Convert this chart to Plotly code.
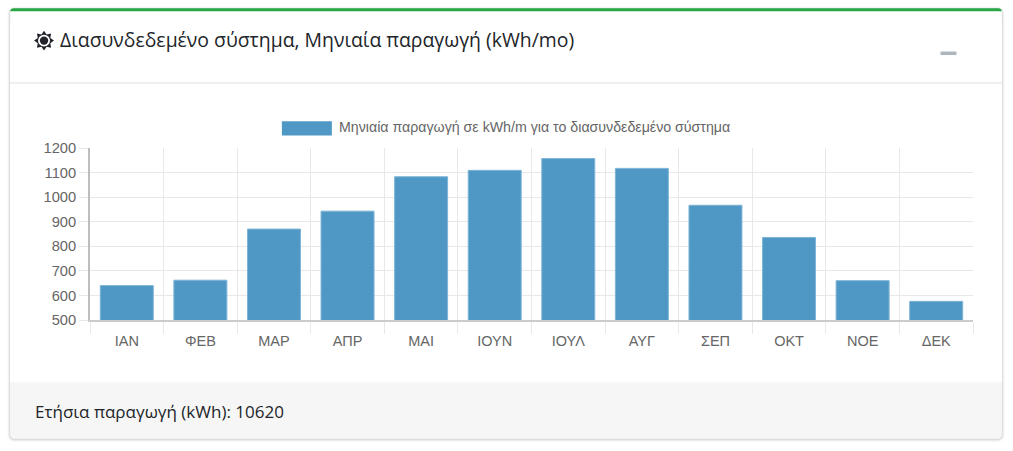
import math
import plotly.graph_objects as go

months = ["ΙΑΝ", "ΦΕΒ", "ΜΑΡ", "ΑΠΡ", "ΜΑΙ", "ΙΟΥΝ", "ΙΟΥΛ", "ΑΥΓ", "ΣΕΠ", "ΟΚΤ", "ΝΟΕ", "ΔΕΚ"]
production = [640, 662, 870, 943, 1083, 1109, 1157, 1117, 967, 836, 660, 576]
series_name = "Μηνιαία παραγωγή σε kWh/m για το διασυνδεδεμένο σύστημα"
title_text = "Διασυνδεδεμένο σύστημα, Μηνιαία παραγωγή (kWh/mo)"
footer_text = "Ετήσια παραγωγή (kWh): 10620"

W, H = 1013, 451
L, R, T, B = 90, 973.5, 147.5, 320.5

def X(p):
    return (p - L) / (R - L)

def Y(p):
    return (B - p) / (B - T)

def rrect(x0, y0, x1, y1, r):
    return (f"M{X(x0+r)},{Y(y0)} L{X(x1-r)},{Y(y0)} Q{X(x1)},{Y(y0)} {X(x1)},{Y(y0+r)} "
            f"L{X(x1)},{Y(y1-r)} Q{X(x1)},{Y(y1)} {X(x1-r)},{Y(y1)} L{X(x0+r)},{Y(y1)} "
            f"Q{X(x0)},{Y(y1)} {X(x0)},{Y(y1-r)} L{X(x0)},{Y(y0+r)} Q{X(x0)},{Y(y0)} {X(x0+r)},{Y(y0)} Z")

def pshape(path, fill, line=None):
    return dict(type="path", xref="paper", yref="paper", path=path, fillcolor=fill,
                line=dict(width=0 if line is None else 1, color=line or "rgba(0,0,0,0)"), layer="below")

def rect(x0, y0, x1, y1, fill):
    return dict(type="rect", xref="paper", yref="paper", x0=X(x0), x1=X(x1), y0=Y(y1), y1=Y(y0),
                fillcolor=fill, line=dict(width=0), layer="below")

def circle(cx, cy, r, fill):
    return dict(type="circle", xref="paper", yref="paper", x0=X(cx-r), x1=X(cx+r), y0=Y(cy+r), y1=Y(cy-r),
                fillcolor=fill, line=dict(width=0), layer="below")

CL, CR, CT, CB = 10, 1002.5, 7, 440
shapes = []
# card shadow
for grow, alpha in [(3, 0.02), (2, 0.04), (1, 0.08)]:
    shapes.append(pshape(rrect(CL-grow, CT-grow+1, CR+grow, CB+grow+0.5, 5+grow), f"rgba(0,0,0,{alpha})"))
# green top edge, footer, white body
shapes.append(pshape(rrect(CL, CT, CR, CT+20, 4), "#28a745"))
shapes.append(pshape(rrect(CL, 370, CR, CB, 5), "#f6f6f6"))
shapes.append(rect(CL, CT+3, CR, 383, "#ffffff"))
shapes.append(rect(CL, 81.5, CR, 82.7, "#dfdfdf"))
# collapse button
shapes.append(rect(941, 50.5, 957, 54, "#adb5bd"))
# sun icon
cx, cy = 44, 39.5
pts = []
for i in range(16):
    r = 10 if i % 2 == 0 else 6.8
    a = math.pi * i / 8 - math.pi / 2
    pts.append((cx + r * math.cos(a), cy + r * math.sin(a)))
shapes.append(pshape("M" + " L".join(f"{X(a)},{Y(b)}" for a, b in pts) + " Z", "#212529"))
shapes.append(circle(cx, cy, 6, "#ffffff"))
shapes.append(circle(cx, cy, 4.2, "#212529"))
# legend swatch
shapes.append(dict(type="rect", xref="paper", yref="paper", x0=X(282), x1=X(332), y0=Y(135), y1=Y(120.5),
                   fillcolor="#4f98c5", line=dict(width=0)))

def text(x, y, s, size, color, family):
    return dict(xref="paper", yref="paper", x=X(x), y=Y(y), text=s, showarrow=False, xanchor="left", yanchor="middle",
                font=dict(size=size, color=color, family=family), borderpad=0, borderwidth=0)

SEGOE = "Open Sans, Noto Sans, sans-serif"
ARIAL = "Liberation Sans, Arial, sans-serif"
annotations = [
    text(60, 38.5, title_text, 19.4, "#212529", SEGOE),
    text(339.5, 126.5, series_name, 14.2, "#666666", ARIAL),
    text(35, 413, footer_text, 17, "#212529", SEGOE),
]

fig = go.Figure(go.Bar(
    x=months, y=production, base=0, name=series_name, width=0.72,
    marker=dict(color="#4f98c5", line=dict(color="#7db4d6", width=1)),
))
fig.update_layout(
    width=W, height=H, margin=dict(l=L, r=W-R, t=T, b=H-B, pad=0),
    paper_bgcolor="rgba(0,0,0,0)", plot_bgcolor="rgba(0,0,0,0)",
    showlegend=False, shapes=shapes, annotations=annotations, bargap=0.28,
)
fig.update_xaxes(type="category", tickson="boundaries", ticks="outside", ticklen=12, tickwidth=1.4, tickcolor="#e8e8e8",
                 showgrid=True, gridcolor="#e8e8e8", gridwidth=1.4, showline=True, linecolor="#cccccc", linewidth=1.5,
                 tickfont=dict(size=14.5, color="#666666", family=ARIAL), fixedrange=True, ticklabelstandoff=7)
fig.update_yaxes(range=[500, 1200], dtick=100, tick0=500, ticks="outside", ticklen=9, tickwidth=1.4, tickcolor="#e8e8e8",
                 showgrid=True, gridcolor="#e8e8e8", gridwidth=1.4, showline=True, linecolor="#bdbdbd", linewidth=1.8,
                 zeroline=False, tickfont=dict(size=14.7, color="#666666", family=ARIAL), fixedrange=True)

fig.write_html("out.html", config=dict(displayModeBar=False),
               post_script="document.body.style.margin='0';document.body.style.overflow='hidden';document.documentElement.style.overflow='hidden';")
